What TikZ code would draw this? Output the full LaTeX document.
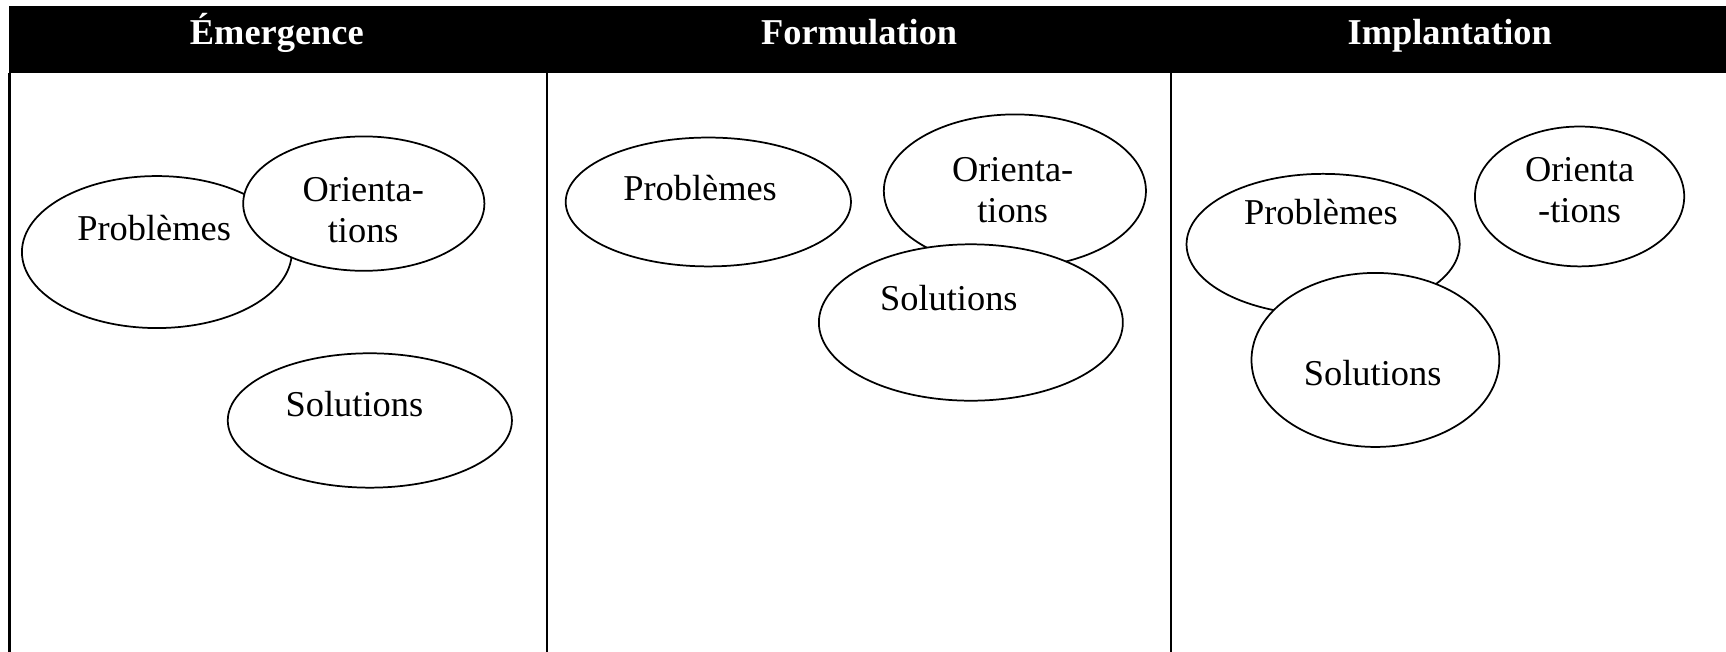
\documentclass[tikz,border=0pt]{standalone}
\usepackage{fontspec}
\setmainfont{Liberation Serif}
\usetikzlibrary{shapes.geometric}
\begin{document}
\begin{tikzpicture}[x=0.01cm,y=-0.01cm,
  oval/.style={draw,ellipse,fill=white,line width=0.45pt,inner sep=0pt},
  lbl/.style={font=\fontsize{9.4}{10.6}\selectfont,align=center,inner sep=0pt},
  head/.style={font=\fontsize{9.4}{10.6}\selectfont\bfseries,text=white,inner sep=0pt,anchor=base},
  rule/.style={line width=0.6pt}]
\useasboundingbox (0,0) rectangle (1568,592);
% header band
\fill[black] (8,5.5) rectangle (1572,66.6);
\node[head] (h1) at (251.5,40.5) {Émergence};
\node[head] (h2) at (780.5,40.5) {Formulation};
\node[head] (h3) at (1317,40.5) {Implantation};
% column lines
\coordinate (l0t) at (8.5,66); \coordinate (l0b) at (8.5,595);
\coordinate (l1t) at (497,66); \coordinate (l1b) at (497,595);
\coordinate (l2t) at (1064,66); \coordinate (l2b) at (1064,595);
\draw[rule] (l0t) -- (l0b);
\draw[rule] (l1t) -- (l1b);
\draw[rule] (l2t) -- (l2b);
% column 1
\node[oval,minimum width=2.45cm,minimum height=1.38cm] (p1) at (142.5,229) {};
\node[oval,minimum width=2.19cm,minimum height=1.22cm] (o1) at (330.5,185) {};
\node[oval,minimum width=2.58cm,minimum height=1.22cm] (s1) at (336,382) {};
\node[lbl] (tp1) at (140,207) {Problèmes};
\node[lbl] (to1) at (330,191) {Orienta-\\tions};
\node[lbl] (ts1) at (322,367) {Solutions};
% column 2
\node[oval,minimum width=2.59cm,minimum height=1.17cm] (p2) at (643.5,183.5) {};
\node[oval,minimum width=2.38cm,minimum height=1.39cm] (o2) at (922,173.5) {};
\node[oval,minimum width=2.76cm,minimum height=1.42cm] (s2) at (882,293) {};
\node[lbl] (tp2) at (636,171) {Problèmes};
\node[lbl] (to2) at (920,173) {Orienta-\\tions};
\node[lbl] (ts2) at (862,271) {Solutions};
% column 3
\node[oval,minimum width=2.48cm,minimum height=1.28cm] (p3) at (1202,222) {};
\node[oval,minimum width=1.90cm,minimum height=1.27cm] (o3) at (1435,178.5) {};
\node[oval,minimum width=2.25cm,minimum height=1.58cm] (s3) at (1249.5,327) {};
\node[lbl] (tp3) at (1200,193) {Problèmes};
\node[lbl] (to3) at (1435,173) {Orienta\\-tions};
\node[lbl] (ts3) at (1247,339) {Solutions};
\end{tikzpicture}
\end{document}
